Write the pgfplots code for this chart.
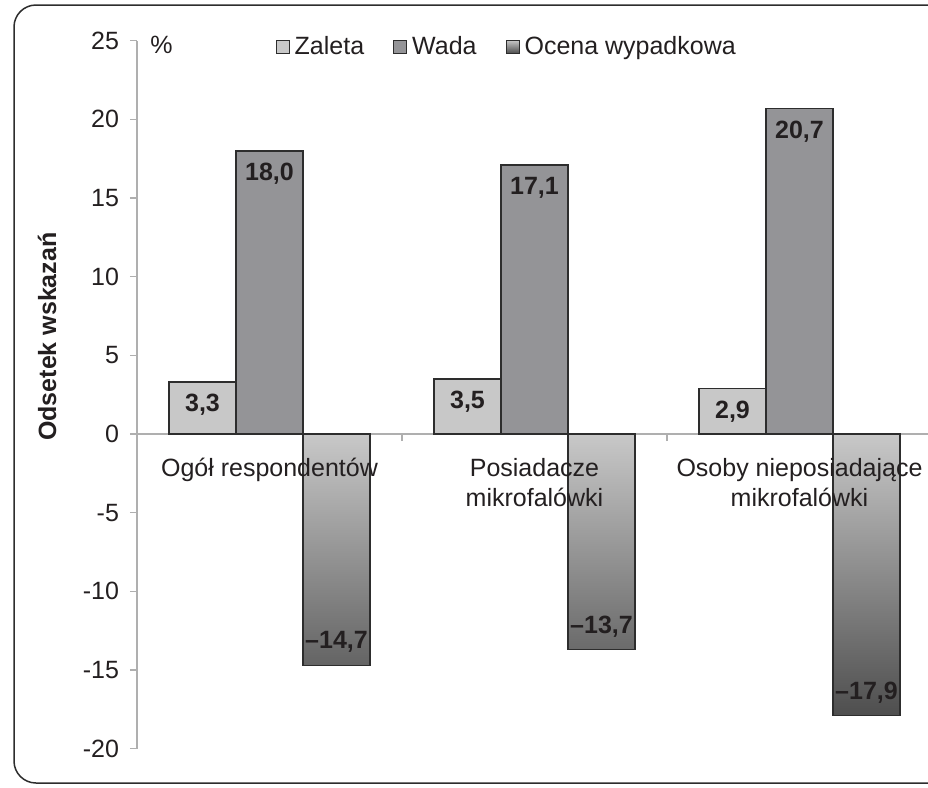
\documentclass[border=0pt]{standalone}
\usepackage{fontspec}
\setmainfont{Liberation Sans}
\usepackage{pgfplots}
\pgfplotsset{compat=1.18}

\definecolor{zal}{RGB}{200,200,200}
\definecolor{wad}{RGB}{148,148,151}
\definecolor{edge}{RGB}{45,45,45}
\definecolor{axgray}{RGB}{175,175,175}
\definecolor{txt}{RGB}{35,31,32}
\definecolor{ocTop}{RGB}{200,200,200}
\definecolor{ocMid}{RGB}{130,130,130}
\definecolor{ocBot}{RGB}{78,78,78}

\newcommand{\fs}{\fontsize{12.5}{15}\selectfont}

\begin{document}
\begin{tikzpicture}
\useasboundingbox (0pt,0pt) rectangle (464pt,-394pt);
\clip (0pt,0pt) rectangle (464pt,-394pt);
\draw[edge, line width=0.75pt, rounded corners=11pt] (7pt,-2.5pt) rectangle (490pt,-391.5pt);

\begin{axis}[
    at={(134.75pt,-217pt)}, anchor=origin,
    scale only axis,
    width=397.5pt, height=354pt,
    xmin=-0.5, xmax=2.5,
    ymin=-20, ymax=25,
    enlargelimits=false,
    clip=false,
    axis x line*=middle,
    axis y line*=left,
    axis line style={axgray, line width=0.7pt},
    tick style={axgray, line width=0.7pt},
    tick align=outside,
    major tick length=3.5pt,
    xtick={0.5,1.5},
    xticklabels={},
    ytick={-20,-15,...,25},
    yticklabel style={font=\fs, text=txt, xshift=-2pt},
    /pgf/number format/assume math mode=true,
    ybar=0pt,
    bar width=33.5pt,
    legend style={
        at={(0.467,0.9915)}, anchor=center,
        draw=none, fill=none,
        legend columns=-1,
        font=\fs, text=txt,
        nodes={inner xsep=2.5pt, inner ysep=1pt},
        /tikz/every even column/.append style={column sep=12pt},
    },
    legend image code/.code={
        \draw[#1, line width=0.5pt] (0pt,-3.25pt) rectangle (6.5pt,3.25pt);
    },
]

\addplot[draw=edge, line width=0.7pt, fill=zal,
    nodes near coords={\pgfmathprintnumber[fixed,fixed zerofill,precision=1,use comma]{\pgfplotspointmeta}},
    every node near coord/.append style={font=\fs\bfseries, text=txt, anchor=center, yshift=-11.5pt}]
    coordinates {(0,3.3) (1,3.5) (2,2.9)};
\addlegendentry{Zaleta}

\addplot[draw=edge, line width=0.7pt, fill=wad,
    nodes near coords={\pgfmathprintnumber[fixed,fixed zerofill,precision=1,use comma]{\pgfplotspointmeta}},
    every node near coord/.append style={font=\fs\bfseries, text=txt, anchor=center, yshift=-11.5pt}]
    coordinates {(0,18.0) (1,17.1) (2,20.7)};
\addlegendentry{Wada}

\addplot[draw=edge, line width=0.7pt, top color=ocTop, middle color=ocMid, bottom color=ocBot,
    point meta=explicit,
    nodes near coords={–\pgfmathprintnumber[fixed,fixed zerofill,precision=1,use comma]{\pgfplotspointmeta}},
    every node near coord/.append style={font=\fs\bfseries, text=txt, anchor=center, yshift=11.5pt}]
    coordinates {(0,-14.7) [14.7] (1,-13.7) [13.7] (2,-17.9) [17.9]};
\addlegendentry{Ocena wypadkowa}

\node[font=\fs, text=txt, align=center, anchor=north, inner sep=0pt, yshift=-12pt] at (axis cs:0,0) {Ogół respondentów};
\node[font=\fs, text=txt, align=center, anchor=north, inner sep=0pt, yshift=-12pt] at (axis cs:1,0) {Posiadacze\\mikrofalówki};
\node[font=\fs, text=txt, align=center, anchor=north, inner sep=0pt, yshift=-12pt] at (axis cs:2,0) {Osoby nieposiadające\\mikrofalówki};

\node[font=\fs, text=txt, anchor=west, inner sep=0pt, xshift=6.5pt, yshift=-2pt] at (rel axis cs:0,1) {\%};
\node[font=\fs\bfseries, text=txt, rotate=90, anchor=center] at (rel axis cs:-0.113,0.582) {Odsetek wskazań};
\end{axis}
\end{tikzpicture}
\end{document}
